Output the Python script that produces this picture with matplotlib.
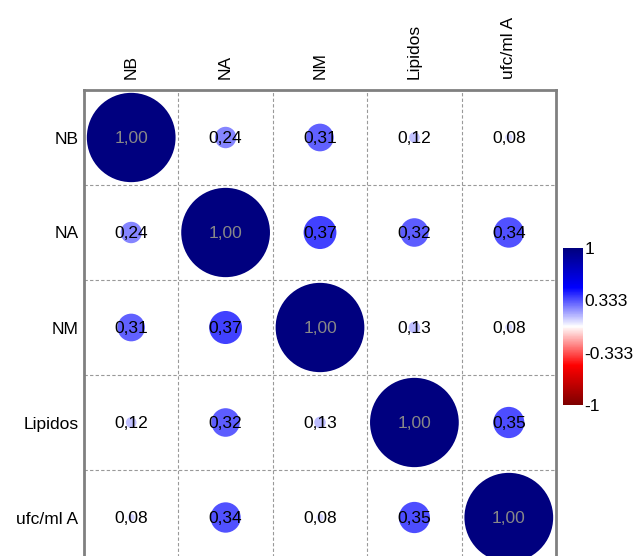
import numpy as np
import matplotlib
matplotlib.use('Agg')
import matplotlib.pyplot as plt
from matplotlib.colors import LinearSegmentedColormap
from matplotlib.patches import Circle

plt.rcParams['font.family'] = ['Liberation Sans', 'DejaVu Sans']

# variable names and correlation matrix
labels = ['NB', 'NA', 'NM', 'Lipidos', 'ufc/ml A']
corr = np.array([
    [1.00, 0.24, 0.31, 0.12, 0.08],
    [0.24, 1.00, 0.37, 0.32, 0.34],
    [0.31, 0.37, 1.00, 0.13, 0.08],
    [0.12, 0.32, 0.13, 1.00, 0.35],
    [0.08, 0.34, 0.08, 0.35, 1.00],
])
cbar_ticks = [1, 0.333, -0.333, -1]

cmap = LinearSegmentedColormap.from_list(
    'rwb', ['#7F0000', '#FF0000', '#FFFFFF', '#0000FF', '#00007F'])

fs = 12.5
fig = plt.figure(figsize=(6.43, 5.56), dpi=100)
W, H = 643, 556
ax = fig.add_axes([84 / W, (H - 565) / H, 472 / W, 475 / H])

n = len(labels)
ax.set_xlim(0.5, n + 0.5)
ax.set_ylim(n + 0.5, 0.5)

# dashed grid lines
for k in range(1, n):
    ax.axvline(k + 0.5, color='#999999', ls=(0, (3, 2)), lw=0.8)
    ax.axhline(k + 0.5, color='#999999', ls=(0, (3, 2)), lw=0.8)

for i in range(n):
    for j in range(n):
        r = corr[i, j]
        ax.add_patch(Circle((j + 1, i + 1), 0.47 * abs(r),
                            facecolor=cmap((r + 1) / 2), edgecolor='none'))
        txt = '{:.2f}'.format(r).replace('.', ',')
        ax.text(j + 1, i + 1.06, txt, ha='center', va='baseline', fontsize=fs,
                color='#888888' if i == j else 'black')

ax.set_xticks(range(1, n + 1))
ax.set_xticklabels(labels, rotation=90, fontsize=fs)
ax.set_yticks(range(1, n + 1))
ax.set_yticklabels(labels, fontsize=fs)
ax.xaxis.tick_top()
ax.tick_params(axis='y', length=0, pad=4)
ax.tick_params(axis='x', length=0, pad=8)
for s in ax.spines.values():
    s.set_color('#808080')
    s.set_linewidth(2)

# colour bar
cax = fig.add_axes([563 / W, (H - 405) / H, 20 / W, 157 / H])
grad = np.linspace(1, -1, 200).reshape(-1, 1)
cax.imshow(grad, aspect='auto', cmap=cmap, vmin=-1, vmax=1,
           extent=[0, 1, -1, 1])
cax.set_xticks([])
cax.yaxis.tick_right()
cax.set_yticks(cbar_ticks)
cax.set_yticklabels(['1', '0.333', '-0.333', '-1'], fontsize=fs)
cax.tick_params(length=0, pad=1)
for s in cax.spines.values():
    s.set_visible(False)

fig.savefig('out.png', dpi=100)
